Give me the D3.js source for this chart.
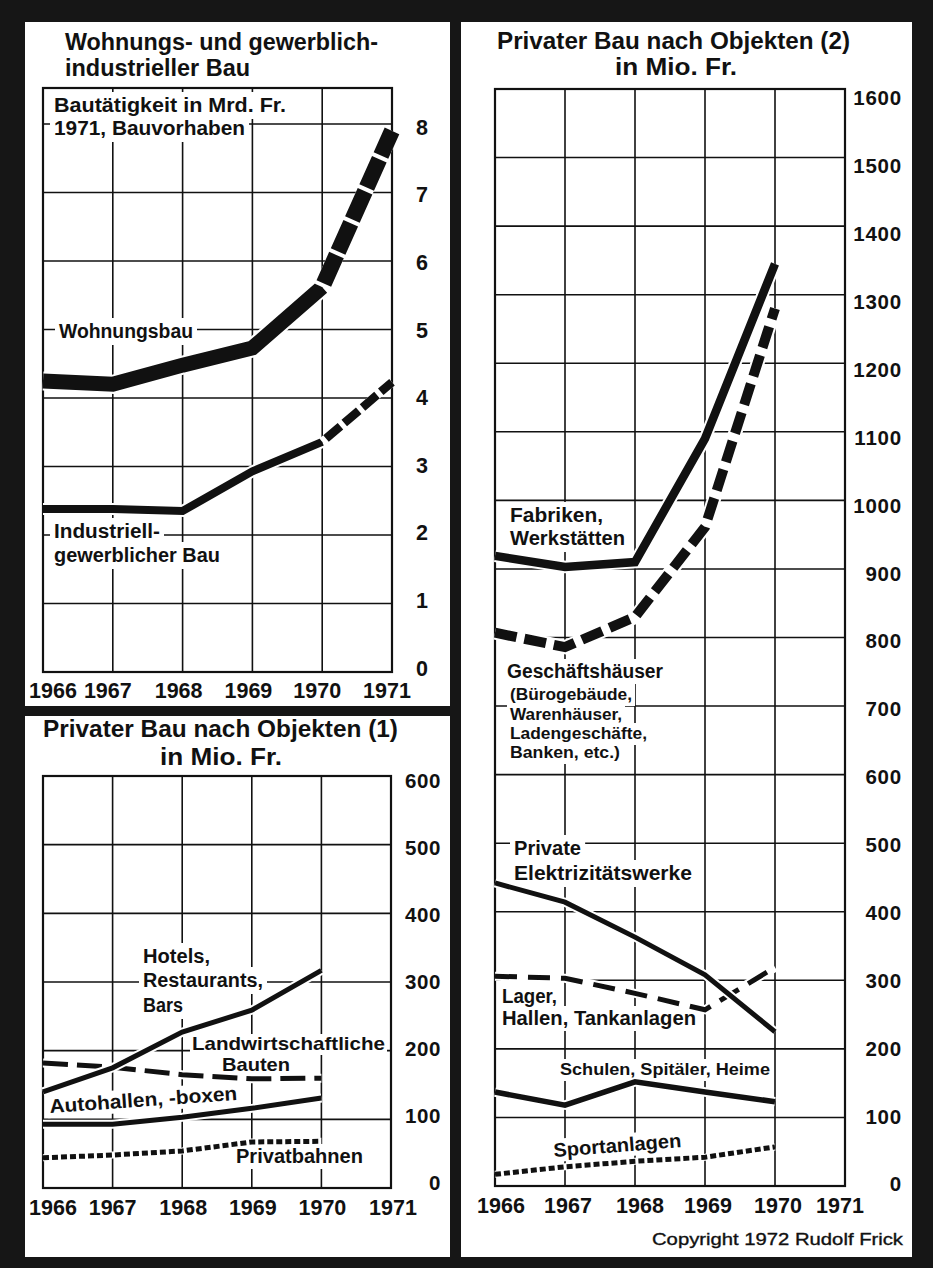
<!DOCTYPE html>
<html><head><meta charset="utf-8">
<script src="https://cdn.jsdelivr.net/npm/d3@7"></script>
<style>
html,body{margin:0;padding:0;background:#161616;}
svg{display:block;}
text{font-family:"Liberation Sans",Arial,Helvetica,sans-serif;font-weight:bold;fill:#111;}
text.copy{font-weight:normal;}
</style></head><body>
<svg id="c" width="933" height="1268"></svg>
<script>
// ---------- DATA ----------
const years = [1966, 1967, 1968, 1969, 1970];
const yearTicks = [1966, 1967, 1968, 1969, 1970, 1971];

// Chart 1: Wohnungs- und gewerblich-industrieller Bau (Mrd. Fr.)
const wohnungsbau = [4.25, 4.2, 4.48, 4.73, 5.62];
const wohnungsbau1971 = 7.9;          // Bauvorhaben 1971
const industriell = [2.38, 2.38, 2.35, 2.93, 3.36];
const industriell1971 = 4.23;         // Bauvorhaben 1971
const ticksA = [0, 1, 2, 3, 4, 5, 6, 7, 8];

// Chart 2: Privater Bau nach Objekten (1), Mio. Fr.
const hotels = [140, 175, 227, 259, 317];
const landwirtschaft = [182, 176, 165, 159, 160];
const autohallen = [93, 93, 103, 116, 131];
const privatbahnen = [44, 48, 54, 67, 68];
const ticksB = [0, 100, 200, 300, 400, 500, 600];

// Chart 3: Privater Bau nach Objekten (2), Mio. Fr.
const fabriken = [919, 903, 910, 1090, 1345];
const geschaefte = [807, 786, 830, 961, 1280];
const elektro = [442, 414, 363, 308, 225];
const lager = [306, 303, 281, 257, 319];
const schulen = [137, 118, 152, 137, 123];
const sport = [17, 28, 36, 42, 57];
const ticksC = [0, 100, 200, 300, 400, 500, 600, 700, 800, 900, 1000, 1100, 1200, 1300, 1400, 1500, 1600];

// ---------- DRAWING ----------
const INK = "#111";
const svg = d3.select("#c");
svg.append("rect").attr("width", 933).attr("height", 1268).attr("fill", "#161616");

// white panels
[[25, 22, 425, 684], [25, 716, 425, 541], [461, 22, 451, 1235]].forEach(p => {
  svg.append("rect").attr("x", p[0]).attr("y", p[1]).attr("width", p[2]).attr("height", p[3]).attr("fill", "#fff");
});

function chart(cfg) {
  const x = d3.scaleLinear().domain([1966, 1971]).range([cfg.left, cfg.right]);
  const y = d3.scaleLinear().domain([0, cfg.ymax]).range([cfg.bottom, cfg.top]);
  const yl = d3.scaleLinear().domain([0, cfg.ticks[cfg.ticks.length - 1]]).range(cfg.labelRange);
  const root = svg.append("g");
  const gGrid = root.append("g");
  const gBg = root.append("g");
  const gLines = root.append("g");
  const gText = root.append("g");

  // grid
  gGrid.selectAll(".v").data(yearTicks.slice(1, -1)).join("line")
    .attr("x1", d => x(d)).attr("x2", d => x(d))
    .attr("y1", cfg.top).attr("y2", cfg.bottom)
    .attr("stroke", INK).attr("stroke-width", 1.6);
  gGrid.selectAll(".h").data(cfg.ticks.filter(t => y(t) > cfg.top + 1 && y(t) < cfg.bottom - 1)).join("line")
    .attr("x1", cfg.left).attr("x2", cfg.right)
    .attr("y1", d => y(d)).attr("y2", d => y(d))
    .attr("stroke", INK).attr("stroke-width", 1.6);
  gGrid.append("rect")
    .attr("x", cfg.left).attr("y", cfg.top)
    .attr("width", cfg.right - cfg.left).attr("height", cfg.bottom - cfg.top)
    .attr("fill", "none").attr("stroke", INK).attr("stroke-width", 2.2);

  // y tick labels
  gText.selectAll(".yl").data(cfg.ticks).join("text")
    .attr("x", cfg.yLabelX).attr("y", d => yl(d)).attr("dy", "0.36em")
    .attr("text-anchor", cfg.yAnchor)
    .attr("font-size", cfg.yFont).attr("letter-spacing", cfg.yLS)
    .text(d => d);

  // x tick labels
  gText.selectAll(".xl").data(yearTicks).join("text")
    .attr("x", (d, i) => x(d) + cfg.xdx[i]).attr("y", cfg.xLabelY)
    .attr("text-anchor", "middle").attr("font-size", 21.5)
    .text(d => d);

  return {x, y, gBg, gLines, gText};
}

function series(c, xs, vals, st) {
  const line = d3.line().x(d => c.x(d[0])).y(d => c.y(d[1]));
  const data = xs.map((d, i) => [d, vals[i]]);
  c.gLines.append("path").attr("d", line(data))
    .attr("fill", "none").attr("stroke", "#fff").attr("stroke-width", st.w + (st.halo == null ? 4 : st.halo))
    .attr("stroke-linejoin", "miter");
  c.gLines.append("path").attr("d", line(data))
    .attr("fill", "none").attr("stroke", INK).attr("stroke-width", st.w)
    .attr("stroke-dasharray", st.dash || null)
    .attr("stroke-dashoffset", st.off || 0)
    .attr("stroke-linejoin", "miter").attr("stroke-linecap", "butt");
}

// label helper: lines [text, x, y, size, width]
function label(c, lines, opt) {
  opt = opt || {};
  const g = c.gText.append("g");
  const bg = c.gBg.append("g");
  if (opt.rot) {
    g.attr("transform", `rotate(${opt.rot},${opt.cx},${opt.cy})`);
    bg.attr("transform", `rotate(${opt.rot},${opt.cx},${opt.cy})`);
  }
  lines.forEach(l => {
    const t = g.append("text").attr("x", l[1]).attr("y", l[2])
      .attr("font-size", l[3]).text(l[0]);
    if (l[4]) t.attr("textLength", l[4]).attr("lengthAdjust", "spacingAndGlyphs");
    if (!opt.noBg) {
      const b = t.node().getBBox();
      const p = opt.pad == null ? 4 : opt.pad;
      bg.append("rect").attr("x", b.x - p).attr("y", b.y - p + 2)
        .attr("width", b.width + 2 * p).attr("height", b.height + 2 * p - 3)
        .attr("fill", "#fff");
    }
  });
}

const FT = 23.5, FL = 19.5, FS = 17;

// ----- Chart A -----
const A = chart({
  left: 43, right: 392, top: 88, bottom: 672, ymax: 8.526, ticks: ticksA,
  labelRange: [668, 127], yLabelX: 428, yAnchor: "end", yFont: 21.5, yLS: 0,
  xLabelY: 698, xdx: [10, -5, -4, -4, -5, -5]
});
label(A, [["Wohnungs- und gewerblich-", 65, 50, FT, 313], ["industrieller Bau", 65, 76, FT, 185]], {noBg: true});
label(A, [["Bautätigkeit in Mrd. Fr.", 54, 112, FL, 232], ["1971, Bauvorhaben", 54, 135, FL, 191]]);
label(A, [["Wohnungsbau", 59, 338, FL, 134]]);
label(A, [["Industriell-", 54, 538, FL, 106], ["gewerblicher Bau", 54, 562, FL, 166]]);
series(A, years, wohnungsbau, {w: 15});
series(A, [1970, 1971], [wohnungsbau[4], wohnungsbau1971], {w: 16, dash: "31,4", off: 31, halo: 0});
series(A, years, industriell, {w: 8});
series(A, [1970, 1971], [industriell[4], industriell1971], {w: 8.5, dash: "19,5", off: 19, halo: 0});

// ----- Chart B -----
const B = chart({
  left: 43, right: 391, top: 776, bottom: 1188, ymax: 600, ticks: ticksB,
  labelRange: [1183, 781], yLabelX: 441, yAnchor: "end", yFont: 20.5, yLS: 0.6,
  xLabelY: 1215, xdx: [10, 0, 1, 1, 1, 2]
});
label(B, [["Privater Bau nach Objekten (1)", 43, 737, FT, 355], ["in Mio. Fr.", 160, 765, FT, 122]], {noBg: true});
label(B, [["Hotels,", 143, 963, FL, 67], ["Restaurants,", 143, 987, FL, 120], ["Bars", 143, 1012, FL, 40]]);
label(B, [["Landwirtschaftliche", 192, 1050, 18.2, 193], ["Bauten", 222, 1071, 18.2, 68]], {pad: 2});
label(B, [["Autohallen, -boxen", 50, 1113, FL, 188]], {rot: -4, cx: 50, cy: 1113, pad: 2});
label(B, [["Privatbahnen", 236, 1163, FL, 127]], {pad: 3});
series(B, years, landwirtschaft, {w: 5, dash: "25,9"});
series(B, years, hotels, {w: 5});
series(B, years, autohallen, {w: 5});
series(B, years, privatbahnen, {w: 5, dash: "6,3", halo: 2});

// ----- Chart C -----
const C = chart({
  left: 495, right: 845, top: 89, bottom: 1186, ymax: 1600, ticks: ticksC,
  labelRange: [1184, 98], yLabelX: 902, yAnchor: "end", yFont: 20.5, yLS: 0.8,
  xLabelY: 1213, xdx: [6, 3, 5, 3, 3, -5]
});
label(C, [["Privater Bau nach Objekten (2)", 497, 49, FT, 353], ["in Mio. Fr.", 615, 75, FT, 122]], {noBg: true});
label(C, [["Fabriken,", 510, 522, FL, 93], ["Werkstätten", 510, 545, FL, 115]]);
label(C, [["Geschäftshäuser", 507, 678, FL, 156], ["(Bürogebäude,", 510, 700, FS, 122], ["Warenhäuser,", 510, 720, FS, 112], ["Ladengeschäfte,", 510, 739, FS, 137], ["Banken, etc.)", 510, 758, FS, 110]], {pad: 3});
label(C, [["Private", 514, 855, FL, 67], ["Elektrizitätswerke", 514, 880, FL, 178]]);
label(C, [["Lager,", 502, 1003, FL, 55], ["Hallen, Tankanlagen", 502, 1025, FL, 194]], {pad: 3});
label(C, [["Schulen, Spitäler, Heime", 560, 1075, FS, 210]], {pad: 3});
label(C, [["Sportanlagen", 554, 1157, FL, 128]], {rot: -4.5, cx: 554, cy: 1157, pad: 2});
series(C, years, geschaefte, {w: 10, dash: "22,8"});
series(C, years, fabriken, {w: 8.5});
series(C, years, lager, {w: 5, dash: "22,11"});
series(C, years, elektro, {w: 5});
series(C, years, schulen, {w: 5.5});
series(C, years, sport, {w: 5, dash: "6,3", halo: 2});

svg.append("text").attr("class", "copy").attr("x", 652).attr("y", 1245).attr("font-size", 16.5)
  .attr("stroke", INK).attr("stroke-width", 0.35)
  .attr("textLength", 251).attr("lengthAdjust", "spacingAndGlyphs")
  .text("Copyright 1972 Rudolf Frick");
</script>
</body></html>
